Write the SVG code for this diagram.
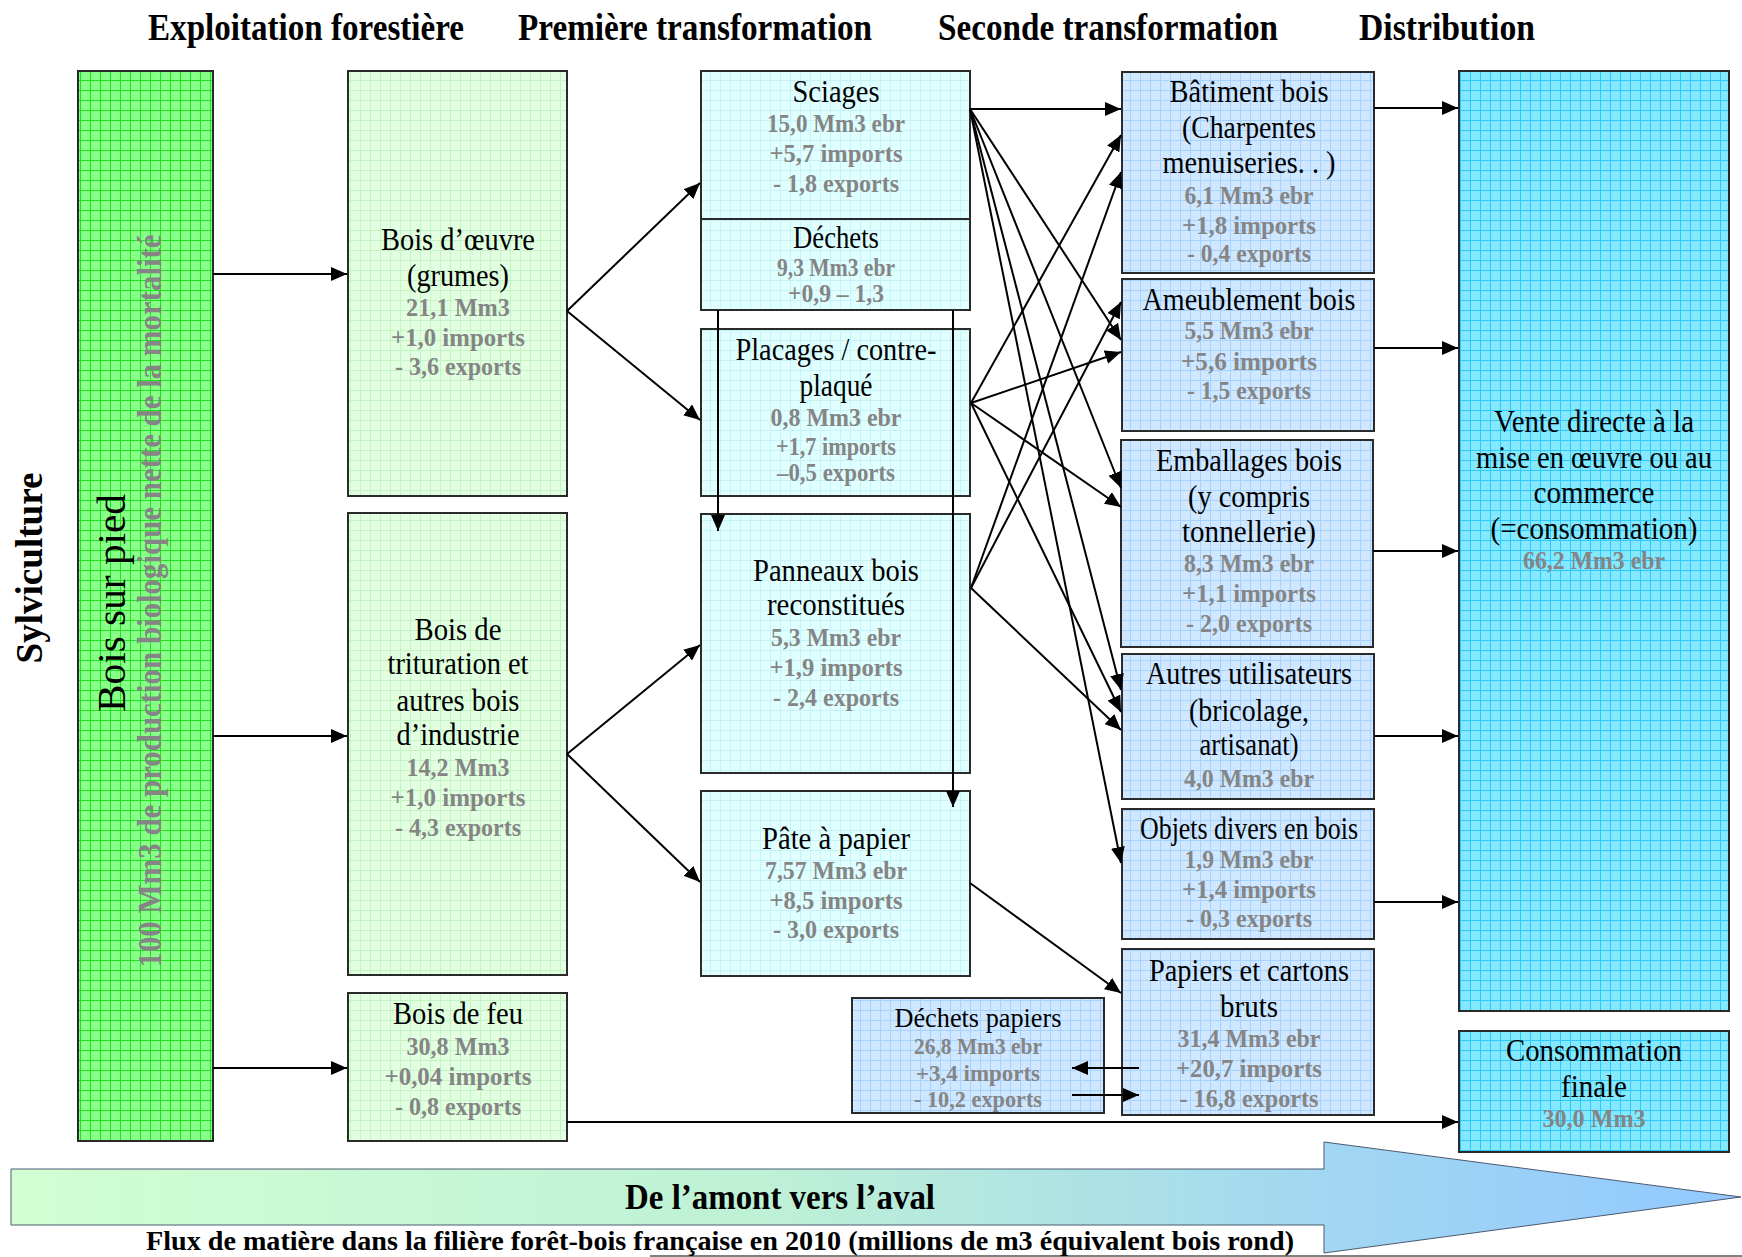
<svg xmlns="http://www.w3.org/2000/svg" width="1742" height="1257" viewBox="0 0 1742 1257">
<defs>
<style>
text{font-family:"Liberation Serif","Times New Roman",serif;text-anchor:middle}
.hdr{font-size:37px;font-weight:bold;fill:#000}
.lbl{font-size:31px;fill:#000}
.lbls{font-size:28px;fill:#000}
.num{font-size:25px;font-weight:bold;fill:#858585}
.nums{font-size:23px;font-weight:bold;fill:#858585}
.box{stroke:#2a2a2a;stroke-width:2}
.con{fill:none;stroke:#000;stroke-width:2;marker-end:url(#ah)}
</style>
<marker id="ah" markerUnits="userSpaceOnUse" markerWidth="16" markerHeight="14" refX="16" refY="7" orient="auto">
<path d="M0,0 L16,7 L0,14 z" fill="#000"/>
</marker>
<pattern id="pGreen" width="10" height="10" patternUnits="userSpaceOnUse">
<rect width="10" height="10" fill="#88ff88"/>
<path d="M0,0.5H10M0.5,0V10" stroke="#22e022" stroke-width="1"/>
</pattern>
<pattern id="pLGreen" width="10" height="10" patternUnits="userSpaceOnUse">
<rect width="10" height="10" fill="#e2ffe2"/>
<path d="M0,0.5H10M0.5,0V10" stroke="#c4f4c4" stroke-width="1"/>
</pattern>
<pattern id="pCyan" width="10" height="10" patternUnits="userSpaceOnUse">
<rect width="10" height="10" fill="#e0ffff"/>
<path d="M0,0.5H10M0.5,0V10" stroke="#c6f2f8" stroke-width="1"/>
</pattern>
<pattern id="pBlue" width="10" height="10" patternUnits="userSpaceOnUse">
<rect width="10" height="10" fill="#cfe7ff"/>
<path d="M0,0.5H10M0.5,0V10" stroke="#a6d2ff" stroke-width="1"/>
</pattern>
<pattern id="pSky" width="10" height="10" patternUnits="userSpaceOnUse">
<rect width="10" height="10" fill="#84e8ff"/>
<path d="M0,0.5H10M0.5,0V10" stroke="#2ec8fa" stroke-width="1"/>
</pattern>
<linearGradient id="gArrow" x1="0" y1="0" x2="1742" y2="0" gradientUnits="userSpaceOnUse">
<stop offset="0" stop-color="#d2ffd2"/>
<stop offset="0.45" stop-color="#bdf0d6"/>
<stop offset="0.75" stop-color="#a2d8f0"/>
<stop offset="1" stop-color="#92c8ff"/>
</linearGradient>
</defs>
<rect width="1742" height="1257" fill="#fff"/>

<g id="headers">
<text class="hdr" x="306" y="40" textLength="316" lengthAdjust="spacingAndGlyphs">Exploitation forestière</text>
<text class="hdr" x="695" y="40" textLength="354" lengthAdjust="spacingAndGlyphs">Première transformation</text>
<text class="hdr" x="1108" y="40" textLength="340" lengthAdjust="spacingAndGlyphs">Seconde transformation</text>
<text class="hdr" x="1447" y="40" textLength="176" lengthAdjust="spacingAndGlyphs">Distribution</text>
<text class="hdr" transform="translate(42,568) rotate(-90)" textLength="191" lengthAdjust="spacingAndGlyphs">Sylviculture</text>
</g>

<g id="bois-sur-pied">
<rect class="box" x="78" y="71" width="135" height="1070" fill="url(#pGreen)"/>
<text transform="translate(125,603) rotate(-90)" style="font-size:41px" textLength="218" lengthAdjust="spacingAndGlyphs">Bois sur pied</text>
<text transform="translate(161,601) rotate(-90)" style="font-size:33px;font-weight:bold;fill:#858585" textLength="733" lengthAdjust="spacingAndGlyphs">100 Mm3 de production biologique nette de la mortalité</text>
</g>

<g id="bois-oeuvre">
<rect class="box" x="348" y="71" width="219" height="425" fill="url(#pLGreen)"/>
<text class="lbl" x="458" y="250" textLength="154" lengthAdjust="spacingAndGlyphs">Bois d’œuvre</text>
<text class="lbl" x="458" y="286" textLength="102" lengthAdjust="spacingAndGlyphs">(grumes)</text>
<text class="num" x="458" y="316" textLength="104" lengthAdjust="spacingAndGlyphs">21,1 Mm3</text>
<text class="num" x="458" y="346" textLength="134" lengthAdjust="spacingAndGlyphs">+1,0 imports</text>
<text class="num" x="458" y="375" textLength="126" lengthAdjust="spacingAndGlyphs">- 3,6 exports</text>
</g>

<g id="bois-trituration">
<rect class="box" x="348" y="513" width="219" height="462" fill="url(#pLGreen)"/>
<text class="lbl" x="458" y="640" textLength="87" lengthAdjust="spacingAndGlyphs">Bois de</text>
<text class="lbl" x="458" y="674" textLength="141" lengthAdjust="spacingAndGlyphs">trituration et</text>
<text class="lbl" x="458" y="711" textLength="123" lengthAdjust="spacingAndGlyphs">autres bois</text>
<text class="lbl" x="458" y="745" textLength="123" lengthAdjust="spacingAndGlyphs">d’industrie</text>
<text class="num" x="458" y="776" textLength="103" lengthAdjust="spacingAndGlyphs">14,2 Mm3</text>
<text class="num" x="458" y="806" textLength="135" lengthAdjust="spacingAndGlyphs">+1,0 imports</text>
<text class="num" x="458" y="836" textLength="126" lengthAdjust="spacingAndGlyphs">- 4,3 exports</text>
</g>

<g id="bois-feu">
<rect class="box" x="348" y="993" width="219" height="148" fill="url(#pLGreen)"/>
<text class="lbl" x="458" y="1024" textLength="130" lengthAdjust="spacingAndGlyphs">Bois de feu</text>
<text class="num" x="458" y="1055" textLength="103" lengthAdjust="spacingAndGlyphs">30,8 Mm3</text>
<text class="num" x="458" y="1085" textLength="147" lengthAdjust="spacingAndGlyphs">+0,04 imports</text>
<text class="num" x="458" y="1115" textLength="126" lengthAdjust="spacingAndGlyphs">- 0,8 exports</text>
</g>

<g id="sciages">
<rect class="box" x="701" y="71" width="269" height="239" fill="url(#pCyan)"/>
<line x1="701" y1="219" x2="970" y2="219" stroke="#2a2a2a" stroke-width="2"/>
<text class="lbl" x="836" y="102" textLength="87" lengthAdjust="spacingAndGlyphs">Sciages</text>
<text class="num" x="836" y="132" textLength="138" lengthAdjust="spacingAndGlyphs">15,0 Mm3 ebr</text>
<text class="num" x="836" y="162" textLength="133" lengthAdjust="spacingAndGlyphs">+5,7 imports</text>
<text class="num" x="836" y="192" textLength="126" lengthAdjust="spacingAndGlyphs">- 1,8 exports</text>
<text class="lbl" x="836" y="248" textLength="86" lengthAdjust="spacingAndGlyphs">Déchets</text>
<text class="num" x="836" y="276" textLength="118" lengthAdjust="spacingAndGlyphs">9,3 Mm3 ebr</text>
<text class="num" x="836" y="302" textLength="96" lengthAdjust="spacingAndGlyphs">+0,9 – 1,3</text>
</g>

<g id="placages">
<rect class="box" x="701" y="329" width="269" height="167" fill="url(#pCyan)"/>
<text class="lbl" x="836" y="360" textLength="201" lengthAdjust="spacingAndGlyphs">Placages / contre-</text>
<text class="lbl" x="836" y="396" textLength="73" lengthAdjust="spacingAndGlyphs">plaqué</text>
<text class="num" x="836" y="426" textLength="131" lengthAdjust="spacingAndGlyphs">0,8 Mm3 ebr</text>
<text class="num" x="836" y="455" textLength="120" lengthAdjust="spacingAndGlyphs">+1,7 imports</text>
<text class="num" x="836" y="481" textLength="118" lengthAdjust="spacingAndGlyphs">–0,5 exports</text>
</g>

<g id="panneaux">
<rect class="box" x="701" y="514" width="269" height="259" fill="url(#pCyan)"/>
<text class="lbl" x="836" y="581" textLength="166" lengthAdjust="spacingAndGlyphs">Panneaux bois</text>
<text class="lbl" x="836" y="615" textLength="138" lengthAdjust="spacingAndGlyphs">reconstitués</text>
<text class="num" x="836" y="646" textLength="130" lengthAdjust="spacingAndGlyphs">5,3 Mm3 ebr</text>
<text class="num" x="836" y="676" textLength="133" lengthAdjust="spacingAndGlyphs">+1,9 imports</text>
<text class="num" x="836" y="706" textLength="126" lengthAdjust="spacingAndGlyphs">- 2,4 exports</text>
</g>

<g id="pate-papier">
<rect class="box" x="701" y="791" width="269" height="185" fill="url(#pCyan)"/>
<text class="lbl" x="836" y="849" textLength="148" lengthAdjust="spacingAndGlyphs">Pâte à papier</text>
<text class="num" x="836" y="879" textLength="142" lengthAdjust="spacingAndGlyphs">7,57 Mm3 ebr</text>
<text class="num" x="836" y="909" textLength="133" lengthAdjust="spacingAndGlyphs">+8,5 imports</text>
<text class="num" x="836" y="938" textLength="126" lengthAdjust="spacingAndGlyphs">- 3,0 exports</text>
</g>

<g id="batiment">
<rect class="box" x="1122" y="72" width="252" height="201" fill="url(#pBlue)"/>
<text class="lbl" x="1249" y="102" textLength="159" lengthAdjust="spacingAndGlyphs">Bâtiment bois</text>
<text class="lbl" x="1249" y="138" textLength="134" lengthAdjust="spacingAndGlyphs">(Charpentes</text>
<text class="lbl" x="1249" y="173" textLength="173" lengthAdjust="spacingAndGlyphs">menuiseries. . )</text>
<text class="num" x="1249" y="204" textLength="129" lengthAdjust="spacingAndGlyphs">6,1 Mm3 ebr</text>
<text class="num" x="1249" y="234" textLength="134" lengthAdjust="spacingAndGlyphs">+1,8 imports</text>
<text class="num" x="1249" y="262" textLength="124" lengthAdjust="spacingAndGlyphs">- 0,4 exports</text>
</g>

<g id="ameublement">
<rect class="box" x="1122" y="279" width="252" height="152" fill="url(#pBlue)"/>
<text class="lbl" x="1249" y="310" textLength="213" lengthAdjust="spacingAndGlyphs">Ameublement bois</text>
<text class="num" x="1249" y="339" textLength="129" lengthAdjust="spacingAndGlyphs">5,5 Mm3 ebr</text>
<text class="num" x="1249" y="370" textLength="136" lengthAdjust="spacingAndGlyphs">+5,6 imports</text>
<text class="num" x="1249" y="399" textLength="124" lengthAdjust="spacingAndGlyphs">- 1,5 exports</text>
</g>

<g id="emballages">
<rect class="box" x="1121" y="440" width="252" height="207" fill="url(#pBlue)"/>
<text class="lbl" x="1249" y="471" textLength="186" lengthAdjust="spacingAndGlyphs">Emballages bois</text>
<text class="lbl" x="1249" y="507" textLength="122" lengthAdjust="spacingAndGlyphs">(y compris</text>
<text class="lbl" x="1249" y="542" textLength="134" lengthAdjust="spacingAndGlyphs">tonnellerie)</text>
<text class="num" x="1249" y="572" textLength="130" lengthAdjust="spacingAndGlyphs">8,3 Mm3 ebr</text>
<text class="num" x="1249" y="602" textLength="134" lengthAdjust="spacingAndGlyphs">+1,1 imports</text>
<text class="num" x="1249" y="632" textLength="126" lengthAdjust="spacingAndGlyphs">- 2,0 exports</text>
</g>

<g id="autres">
<rect class="box" x="1122" y="654" width="252" height="145" fill="url(#pBlue)"/>
<text class="lbl" x="1249" y="684" textLength="206" lengthAdjust="spacingAndGlyphs">Autres utilisateurs</text>
<text class="lbl" x="1249" y="721" textLength="120" lengthAdjust="spacingAndGlyphs">(bricolage,</text>
<text class="lbl" x="1249" y="755" textLength="99" lengthAdjust="spacingAndGlyphs">artisanat)</text>
<text class="num" x="1249" y="787" textLength="130" lengthAdjust="spacingAndGlyphs">4,0 Mm3 ebr</text>
</g>

<g id="objets">
<rect class="box" x="1122" y="809" width="252" height="130" fill="url(#pBlue)"/>
<text class="lbl" x="1249" y="839" textLength="218" lengthAdjust="spacingAndGlyphs">Objets divers en bois</text>
<text class="num" x="1249" y="868" textLength="129" lengthAdjust="spacingAndGlyphs">1,9 Mm3 ebr</text>
<text class="num" x="1249" y="898" textLength="134" lengthAdjust="spacingAndGlyphs">+1,4 imports</text>
<text class="num" x="1249" y="927" textLength="126" lengthAdjust="spacingAndGlyphs">- 0,3 exports</text>
</g>

<g id="papiers-cartons">
<rect class="box" x="1122" y="949" width="252" height="166" fill="url(#pBlue)"/>
<text class="lbl" x="1249" y="981" textLength="200" lengthAdjust="spacingAndGlyphs">Papiers et cartons</text>
<text class="lbl" x="1249" y="1017" textLength="58" lengthAdjust="spacingAndGlyphs">bruts</text>
<text class="num" x="1249" y="1047" textLength="143" lengthAdjust="spacingAndGlyphs">31,4 Mm3 ebr</text>
<text class="num" x="1249" y="1077" textLength="146" lengthAdjust="spacingAndGlyphs">+20,7 imports</text>
<text class="num" x="1249" y="1107" textLength="139" lengthAdjust="spacingAndGlyphs">- 16,8 exports</text>
</g>

<g id="dechets-papiers">
<rect class="box" x="852" y="998" width="252" height="115" fill="url(#pBlue)"/>
<text class="lbls" x="978" y="1027" textLength="167" lengthAdjust="spacingAndGlyphs">Déchets papiers</text>
<text class="nums" x="978" y="1054" textLength="128" lengthAdjust="spacingAndGlyphs">26,8 Mm3 ebr</text>
<text class="nums" x="978" y="1081" textLength="124" lengthAdjust="spacingAndGlyphs">+3,4 imports</text>
<text class="nums" x="978" y="1107" textLength="128" lengthAdjust="spacingAndGlyphs">-  10,2 exports</text>
</g>

<g id="vente-directe">
<rect class="box" x="1459" y="71" width="270" height="940" fill="url(#pSky)"/>
<text class="lbl" x="1594" y="432" textLength="200" lengthAdjust="spacingAndGlyphs">Vente directe à la</text>
<text class="lbl" x="1594" y="468" textLength="236" lengthAdjust="spacingAndGlyphs">mise en œuvre ou au</text>
<text class="lbl" x="1594" y="503" textLength="121" lengthAdjust="spacingAndGlyphs">commerce</text>
<text class="lbl" x="1594" y="539" textLength="207" lengthAdjust="spacingAndGlyphs">(=consommation)</text>
<text class="num" x="1594" y="569" textLength="142" lengthAdjust="spacingAndGlyphs">66,2 Mm3 ebr</text>
</g>

<g id="consommation-finale">
<rect class="box" x="1459" y="1031" width="270" height="121" fill="url(#pSky)"/>
<text class="lbl" x="1594" y="1061" textLength="176" lengthAdjust="spacingAndGlyphs">Consommation</text>
<text class="lbl" x="1594" y="1097" textLength="66" lengthAdjust="spacingAndGlyphs">finale</text>
<text class="num" x="1594" y="1127" textLength="103" lengthAdjust="spacingAndGlyphs">30,0 Mm3</text>
</g>

<g id="connectors">
<path class="con" d="M213,274 H347"/>
<path class="con" d="M213,736 H347"/>
<path class="con" d="M213,1068 H347"/>
<path class="con" d="M567,311 L700,183"/>
<path class="con" d="M567,311 L700,420"/>
<path class="con" d="M567,754 L700,645"/>
<path class="con" d="M567,754 L700,882"/>
<path class="con" d="M718,310 V531"/>
<path class="con" d="M953,310 V807"/>
<path class="con" d="M970,109 L1121,109"/>
<path class="con" d="M970,109 L1121,340"/>
<path class="con" d="M970,109 L1121,488"/>
<path class="con" d="M970,109 L1121,690"/>
<path class="con" d="M970,109 L1121,863"/>
<path class="con" d="M971,403 L1121,135"/>
<path class="con" d="M971,403 L1121,352"/>
<path class="con" d="M971,403 L1121,507"/>
<path class="con" d="M971,403 L1121,712"/>
<path class="con" d="M971,588 L1121,172"/>
<path class="con" d="M971,588 L1121,302"/>
<path class="con" d="M971,588 L1121,730"/>
<path class="con" d="M970,883 L1121,993"/>
<path class="con" d="M1139,1068 H1072"/>
<path class="con" d="M1072,1095 H1139"/>
<path class="con" d="M1374,108 H1458"/>
<path class="con" d="M1374,348 H1458"/>
<path class="con" d="M1373,551 H1458"/>
<path class="con" d="M1374,736 H1458"/>
<path class="con" d="M1374,902 H1458"/>
<path class="con" d="M567,1122 H1458"/>
</g>

<g id="flow-arrow">
<path d="M11,1169 H1324 V1142 L1741,1197 L1324,1253 V1225 H11 Z" fill="url(#gArrow)" stroke="#4a5a70" stroke-width="1"/>
<text x="780" y="1209" style="font-size:35px;font-weight:bold" textLength="310" lengthAdjust="spacingAndGlyphs">De l’amont vers l’aval</text>
<text x="720" y="1250" style="font-size:27px;font-weight:bold" textLength="1148" lengthAdjust="spacingAndGlyphs">Flux de matière dans la filière forêt-bois française en 2010 (millions de m3 équivalent bois rond)</text>
<line x1="650" y1="1256" x2="1742" y2="1256" stroke="#000" stroke-width="1"/>
</g>
</svg>
